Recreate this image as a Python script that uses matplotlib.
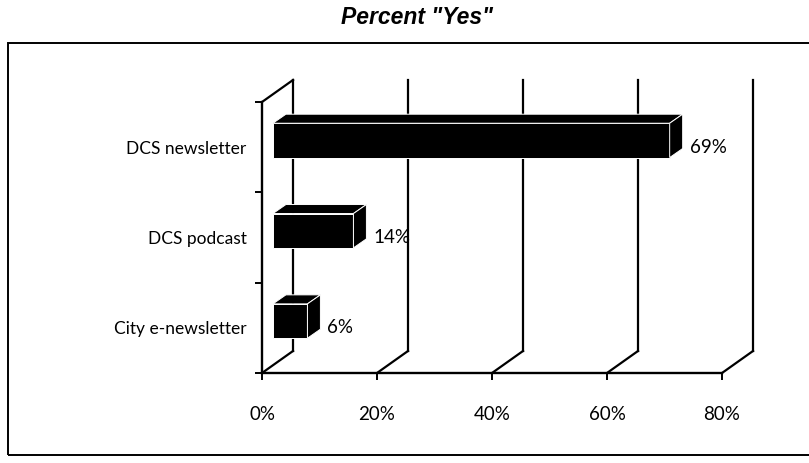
import matplotlib
matplotlib.use("Agg")
import matplotlib.pyplot as plt
from matplotlib.patches import Polygon, Rectangle

categories = ["DCS newsletter", "DCS podcast", "City e-newsletter"]
values = [69, 14, 6]
value_labels = ["69%", "14%", "6%"]
xticks = [0, 20, 40, 60, 80]
xtick_labels = ["0%", "20%", "40%", "60%", "80%"]

W, H = 809, 463
fig = plt.figure(figsize=(W / 100, H / 100), dpi=100)

# outer frame
fig.add_artist(Rectangle((8 / W, 8 / H), 1.2, (455 - 43) / H, transform=fig.transFigure,
                         fill=False, edgecolor="black", lw=1.4))
fig.text(417 / W, 1 - 18 / H, 'Percent "Yes"', ha="center", va="center",
         family="Liberation Sans", fontsize=16.5, fontweight="bold", style="italic")

ax = fig.add_axes([262 / W, (H - 373) / H, 460 / W, 271 / H])
ax.set_xlim(0, 80)
ax.set_ylim(2.5, -0.5)
for s in ["top", "right"]:
    ax.spines[s].set_visible(False)
for s in ["left", "bottom"]:
    ax.spines[s].set_linewidth(1.7)

FONT = "Lato"
ax.set_xticks(xticks)
ax.set_xticklabels(xtick_labels, family=FONT, fontsize=13.5)
ax.tick_params(axis="x", direction="out", length=5, width=1.4, pad=19)
ax.set_yticks(range(len(categories)))
ax.set_yticklabels(categories, family=FONT, fontsize=12.5)
ax.tick_params(axis="y", which="major", length=0, pad=11)
ax.set_yticks([-0.5, 0.5, 1.5, 2.5], minor=True)
ax.tick_params(axis="y", which="minor", direction="out", length=5, width=1.4)

# 3D walls (depth offsets in data units)
WX, WY = 5.4, 0.244
ylo, yhi = 2.5, -0.5
for t in xticks:
    ax.plot([t, t + WX], [ylo, ylo - WY], color="black", lw=1.6, clip_on=False, zorder=1)
    ax.plot([t + WX, t + WX], [ylo - WY, yhi - WY], color="black", lw=1.6, clip_on=False, zorder=1)
ax.plot([0, WX], [yhi, yhi - WY], color="black", lw=1.6, clip_on=False, zorder=1)

# 3D bars
OX, OY = 1.9, 0.075
DX, DY = 2.26, 0.10
BH = 0.38
for i, (v, lab) in enumerate(zip(values, value_labels)):
    yc = i - OY
    yt, yb = yc - BH / 2, yc + BH / 2
    x0, x1 = OX, OX + v
    front = Polygon([(x0, yt), (x1, yt), (x1, yb), (x0, yb)], closed=True,
                    facecolor="black", edgecolor="white", lw=0.7, zorder=3, clip_on=False)
    top = Polygon([(x0, yt), (x1, yt), (x1 + DX, yt - DY), (x0 + DX, yt - DY)], closed=True,
                  facecolor="black", edgecolor="white", lw=0.7, zorder=3, clip_on=False)
    side = Polygon([(x1, yt), (x1 + DX, yt - DY), (x1 + DX, yb - DY), (x1, yb)], closed=True,
                   facecolor="black", edgecolor="white", lw=0.7, zorder=3, clip_on=False)
    for p in (front, top, side):
        ax.add_patch(p)
    ax.annotate(lab, xy=(x1 + DX, i), xytext=(5, 0), textcoords="offset points",
                ha="left", va="center", family=FONT, fontsize=13.5, zorder=4)

fig.savefig("out.png", dpi=100)
